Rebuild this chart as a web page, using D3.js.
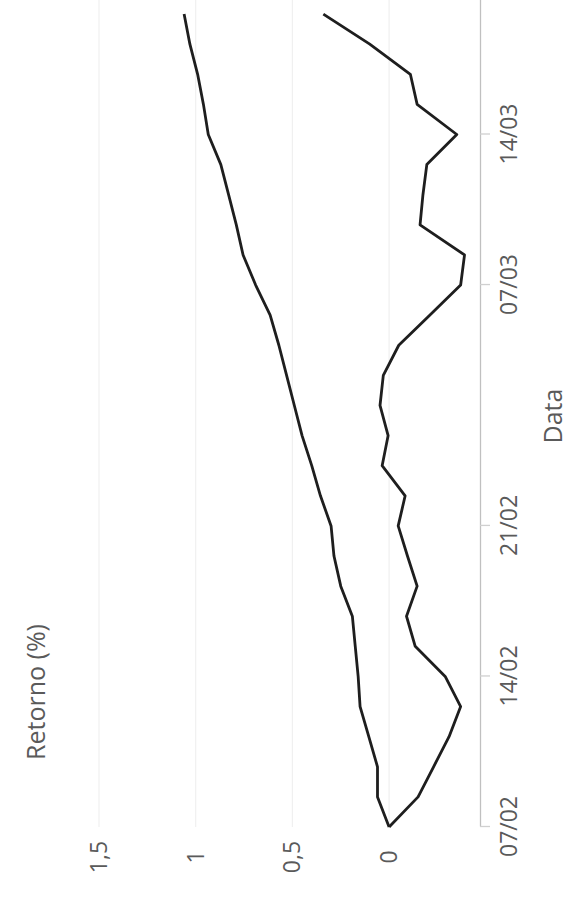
<!DOCTYPE html>
<html>
<head>
  <meta charset="utf-8">
  <script src="https://d3js.org/d3.v7.min.js"></script>
  <style>
    body { margin: 0; background: #fff; }
    text { font-family: "Open Sans", sans-serif; fill: #5a5a5a; }
  </style>
</head>
<body>
<script type="text/javascript">
  // trading days only (carnival 03-04/03 has no quotes)
  var dates = ["07/02", "10/02", "11/02", "12/02", "13/02", "14/02",
               "17/02", "18/02", "19/02", "20/02", "21/02",
               "24/02", "25/02", "26/02", "27/02", "28/02",
               "05/03", "06/03", "07/03",
               "10/03", "11/03", "12/03", "13/03", "14/03",
               "17/03", "18/03", "19/03", "20/03"];
  var serieA = [0, 0.06, 0.06, 0.105, 0.15, 0.16, 0.175, 0.19, 0.25, 0.285,
                0.30, 0.355, 0.40, 0.45, 0.49, 0.53, 0.57, 0.615, 0.69,
                0.755, 0.79, 0.83, 0.87, 0.935, 0.96, 0.99, 1.03, 1.06];
  var serieB = [0, -0.15, -0.23, -0.31, -0.37, -0.29, -0.135, -0.09, -0.145, -0.095,
                -0.047, -0.083, 0.036, 0.005, 0.047, 0.03, -0.05, -0.21, -0.37,
                -0.39, -0.16, -0.175, -0.195, -0.35, -0.145, -0.11, 0.10, 0.34];
  var yTicks = [0, 0.5, 1, 1.5];
  var xTicks = ["07/02", "14/02", "21/02", "07/03", "14/03"];

  var W = 574, H = 899;
  var svg = d3.select("body").append("svg")
    .attr("width", W)
    .attr("height", H);

  // the page is turned on its side: draw the chart normally and rotate it
  var g = svg.append("g")
    .attr("transform", "translate(0," + H + ") rotate(-90)");

  var x = d3.scaleLinear().domain([0, 27.6]).range([72, 903]);
  var y = d3.scaleLinear().domain([-0.47, 1.5]).range([480, 99]);

  var fmt = d3.formatLocale({decimal: ",", thousands: ".", grouping: [3], currency: ["R$", ""]}).format("~g");

  // grid
  g.append("g").selectAll("line")
    .data(yTicks)
    .enter().append("line")
    .attr("x1", x(0))
    .attr("x2", 910)
    .attr("y1", function(d) { return y(d); })
    .attr("y2", function(d) { return y(d); })
    .style("stroke", "#f0f0f0")
    .style("stroke-width", 1.2);

  // x axis (dates)
  var xAxis = g.append("g")
    .attr("transform", "translate(0," + y(-0.47) + ")")
    .call(d3.axisBottom(x)
      .tickValues(xTicks.map(function(d) { return dates.indexOf(d); }))
      .tickFormat(function(i) { return dates[i]; })
      .tickSize(10)
      .tickSizeOuter(0)
      .tickPadding(11));
  xAxis.select(".domain").style("stroke", "#c0c0c0").style("stroke-width", 1.3);
  xAxis.selectAll(".tick line").style("stroke", "#d0d0d0").style("stroke-width", 1.3);
  xAxis.selectAll("text").style("font-size", "23px").style("fill", "#5a5a5a");

  // y axis (retorno), labels only
  var yAxis = g.append("g")
    .attr("transform", "translate(" + x(0) + ",0)")
    .call(d3.axisLeft(y).tickValues(yTicks).tickFormat(fmt).tickSize(0));
  yAxis.select(".domain").remove();
  yAxis.selectAll("text")
    .attr("text-anchor", "middle")
    .attr("x", -30)
    .style("font-size", "23px")
    .style("fill", "#5a5a5a");

  // series
  var line = d3.line()
    .x(function(d, i) { return x(i); })
    .y(function(d) { return y(d); });

  [serieA, serieB].forEach(function(s) {
    g.append("path")
      .datum(s)
      .attr("d", line)
      .style("fill", "none")
      .style("stroke", "#1e1e1e")
      .style("stroke-width", 2.8)
      .style("stroke-linejoin", "round");
  });

  // axis titles
  g.append("text")
    .attr("x", 207)
    .attr("y", 35)
    .attr("text-anchor", "middle")
    .attr("dominant-baseline", "central")
    .style("font-size", "25px")
    .text("Retorno (%)");

  g.append("text")
    .attr("x", 483)
    .attr("y", 552)
    .attr("text-anchor", "middle")
    .attr("dominant-baseline", "central")
    .style("font-size", "25px")
    .text("Data");
</script>
</body>
</html>
